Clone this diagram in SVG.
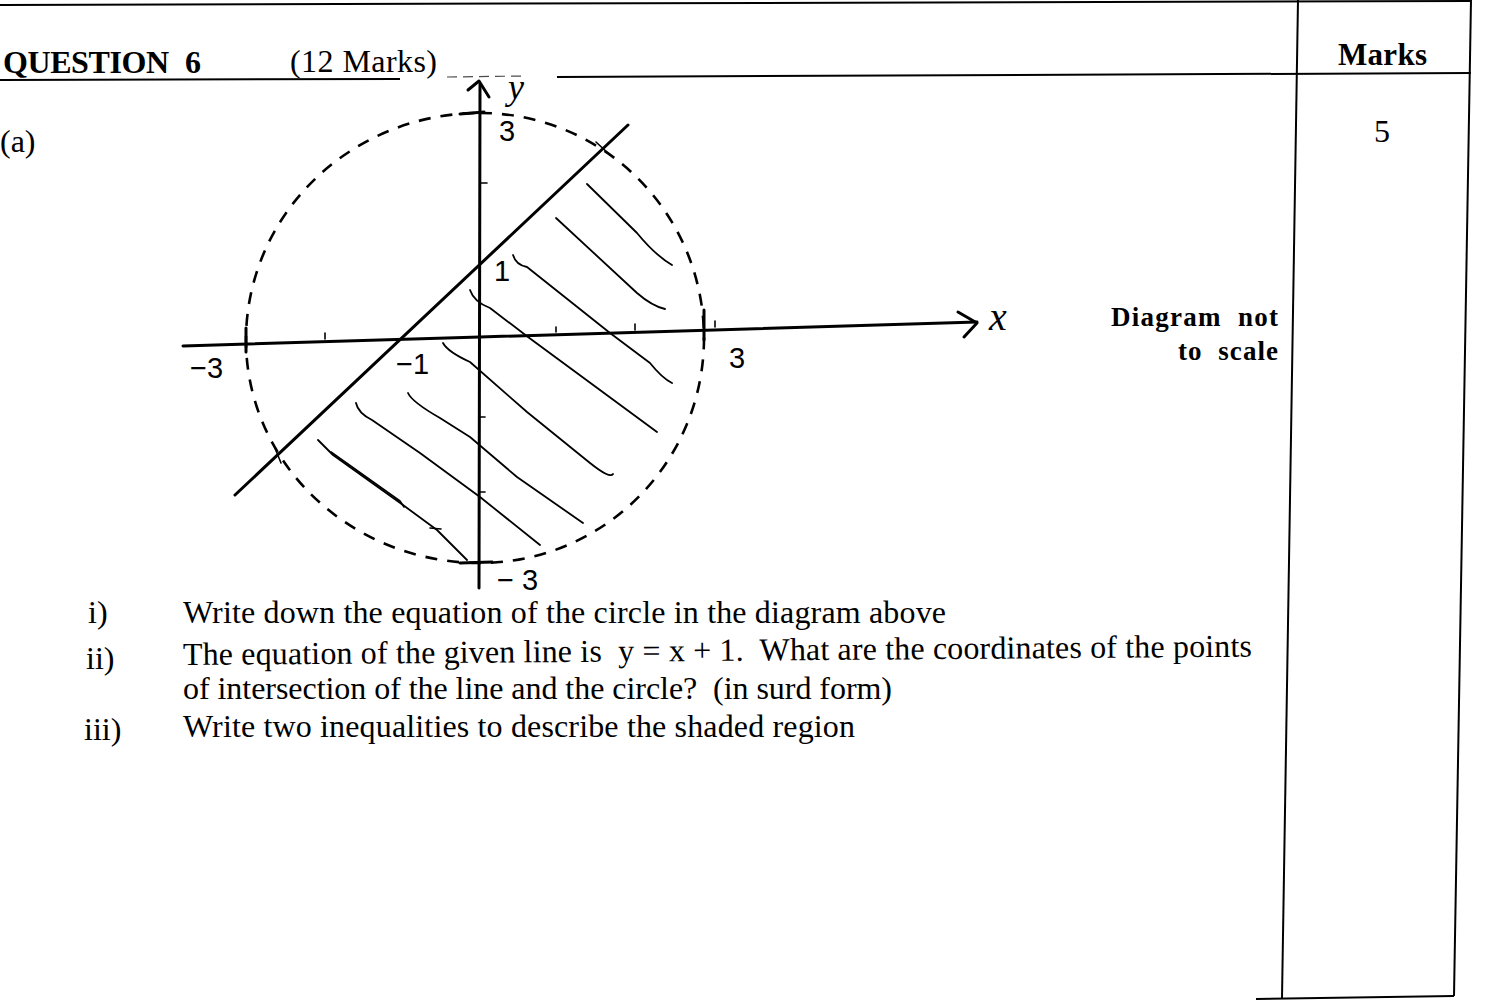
<svg xmlns="http://www.w3.org/2000/svg" width="1493" height="1002" viewBox="0 0 1493 1002">
<style>
.frame{stroke:#000;stroke-width:2;fill:none}
.serif{font-family:"Liberation Serif","Times New Roman",serif;fill:#000}
.bold{font-weight:bold}
.body{font-size:32px;white-space:pre}
.hand{font-family:"Liberation Sans","DejaVu Sans",sans-serif;fill:#000;font-size:29px}
.axis{stroke:#000;stroke-width:3;fill:none;stroke-linecap:round;stroke-linejoin:round}
.thin{stroke:#000;stroke-width:1.6;fill:none;stroke-linecap:round;stroke-linejoin:round}
.hatch{stroke:#000;stroke-width:1.8;fill:none;stroke-linecap:round;stroke-linejoin:round}
.circle{stroke:#000;stroke-width:2.6;fill:none;stroke-dasharray:12 10}
</style>
<rect width="1493" height="1002" fill="#fff"/>

<g id="page-frame">
  <line class="frame" x1="0" y1="5" x2="1471" y2="1"/>
  <line class="frame" x1="1298" y1="0" x2="1282" y2="998"/>
  <line class="frame" x1="1471" y1="0" x2="1454" y2="996"/>
  <line class="frame" x1="1256" y1="999" x2="1454" y2="996"/>
  <line class="frame" x1="0" y1="80" x2="400" y2="79"/>
  <line class="frame" x1="557" y1="77" x2="1471" y2="73"/>
  <line stroke="#000" stroke-width="1.2" stroke-dasharray="10 6" x1="447" y1="77" x2="525" y2="76" opacity="0.7"/>
</g>

<g id="header">
  <text class="serif bold" x="3" y="73" font-size="32" textLength="166">QUESTION</text>
  <text class="serif bold" x="185" y="73" font-size="32">6</text>
  <text class="serif" x="290" y="72" font-size="32" textLength="147">(12 Marks)</text>
  <text class="serif bold" x="1338" y="65" font-size="31" textLength="89">Marks</text>
  <text class="serif" x="1374" y="142" font-size="32">5</text>
  <text class="serif" x="0" y="152" font-size="32">(a)</text>
</g>

<g id="note">
  <text class="serif bold" x="1111" y="326" font-size="27" textLength="167" style="white-space:pre">Diagram  not</text>
  <text class="serif bold" x="1178" y="360" font-size="27" textLength="100" style="white-space:pre">to  scale</text>
</g>

<g id="diagram">
  <g id="circle">
    <path class="circle" d="M480,113 A224,225 0 0 1 704,338 A224,225 0 0 1 480,563 A234,223 0 0 1 246,340 A234,227 0 0 1 480,113 Z"/>
  </g>
  <g id="hatching">
    <path class="hatch" d="M587,184 L637,233 Q655,255 672,265"/>
    <path class="hatch" d="M556,218 L637,293 Q652,306 665,309"/>
    <path class="hatch" d="M513,255 Q516,265 527,267 L610,333 L650,363 Q662,378 672,383"/>
    <path class="hatch" d="M470,290 Q474,302 490,308 L528,337 L657,432"/>
    <path class="hatch" d="M443,343 Q448,352 470,362 L527,412 L590,463 Q610,479 613,474"/>
    <path class="hatch" d="M408,393 Q412,402 440,418 L470,437 L517,477 L550,500 L583,523"/>
    <path class="hatch" d="M356,403 Q358,413 372,420 L420,453 L480,497 L540,545"/>
    <path class="hatch" d="M318,440 L333,455 L403,505 L437,530 L467,560"/>
    <path class="thin" d="M331,452 L400,501 L404,507" stroke-width="1"/>
    <path class="thin" d="M430,528 L441,529"/>
  </g>
  <g id="axes">
    <path class="axis" d="M183,346 L480,337" stroke-width="3.5"/>
    <path class="axis" d="M480,337 L977,322" stroke-width="2.6"/>
    <path class="axis" d="M958,312 L977,323 L964,337" stroke-width="2.4"/>
    <path class="axis" d="M480,84 L479,588"/>
    <path class="axis" d="M468,90 L479,81 L489,97" stroke-width="2.4"/>
    <path class="axis" d="M460,114 L484,112" stroke-width="3.5"/>
    <path class="thin" d="M480,183 L487,183"/>
    <path class="thin" d="M480,417 L485,417"/>
    <path class="thin" d="M480,492 L485,492"/>
    <path class="axis" d="M460,563 L492,562" stroke-width="3.5"/>
    <path class="axis" d="M246,328 L246,352" stroke-width="3"/>
    <path class="thin" d="M325,333 L325,339"/>
    <path class="thin" d="M556,327 L556,332"/>
    <path class="thin" d="M635,324 L635,330"/>
    <path class="axis" d="M704,310 L704,340" stroke-width="3.5"/>
    <path class="thin" d="M715,321 L715,327"/>
  </g>
  <g id="line">
    <path class="axis" d="M235,495 L628,125" stroke-width="2.6"/>
    <path class="thin" d="M596,142 L610,155"/>
    <path class="thin" d="M275,448 L281,463"/>
  </g>
  <g id="labels">
    <text class="serif" x="508" y="99" font-size="36" font-style="italic">y</text>
    <text class="hand" x="499" y="141">3</text>
    <text class="hand" x="494" y="281">1</text>
    <text class="hand" x="396" y="374">−1</text>
    <text class="hand" x="190" y="378">−3</text>
    <text class="hand" x="729" y="368">3</text>
    <text class="hand" x="497" y="590" font-size="28">− 3</text>
    <text class="serif" x="989" y="330" font-size="40" font-style="italic">x</text>
  </g>
</g>

<g id="questions">
  <text class="serif body" x="88" y="623">i)</text>
  <text class="serif body" x="183" y="623" textLength="763">Write down the equation of the circle in the diagram above</text>
  <text class="serif body" x="86" y="669">ii)</text>
  <text class="serif body" x="183" y="665" textLength="1069" transform="rotate(-0.45 183 665)">The equation of the given line is  y = x + 1.  What are the coordinates of the points</text>
  <text class="serif body" x="183" y="699" textLength="709">of intersection of the line and the circle?  (in surd form)</text>
  <text class="serif body" x="84" y="740">iii)</text>
  <text class="serif body" x="183" y="737" textLength="672">Write two inequalities to describe the shaded region</text>
</g>
</svg>
